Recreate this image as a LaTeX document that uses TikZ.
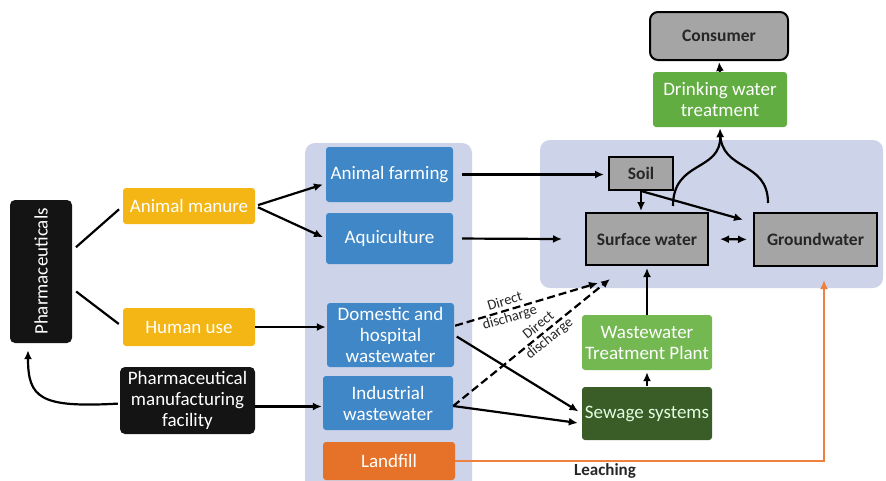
\documentclass[tikz,border=0pt]{standalone}
\usepackage{fontspec}
\setmainfont{Carlito}
\usepackage{graphicx}
\usetikzlibrary{arrows.meta}
\definecolor{PHyellow}{HTML}{F3B614}
\definecolor{PHblue}{HTML}{3F87C7}
\definecolor{PHpanel}{HTML}{CDD3E9}
\definecolor{PHgrey}{HTML}{A5A5A5}
\definecolor{PHgreen}{HTML}{62AD42}
\definecolor{PHlightgreen}{HTML}{74B852}
\definecolor{PHdarkgreen}{HTML}{3A5C26}
\definecolor{PHorange}{HTML}{E6722A}
\definecolor{PHline}{HTML}{EE8040}
\definecolor{PHblack}{HTML}{141414}

\begin{document}
\begin{tikzpicture}[x=1pt,y=-1pt,>={Latex[length=9pt,width=8pt]},
    box/.style={rounded corners=3pt,align=center,text=white,inner sep=1pt,
      font=\fontsize{19}{21}\selectfont},
    srcbox/.style={box,fill=PHyellow},
    pathbox/.style={box,fill=PHblue},
    darkbox/.style={box,fill=PHblack,rounded corners=5pt},
    sinkbox/.style={box,sharp corners,fill=PHgrey,draw=black,line width=2pt,
      text=black!85,font=\fontsize{17.5}{20}\selectfont\bfseries},
    flow/.style={->,line width=2.2pt},
    ddflow/.style={flow,dash pattern=on 8pt off 4pt},
    ddlabel/.style={sloped,align=center,inner sep=0pt,text=black!85,font=\fontsize{14.5}{17}\selectfont}]
    \useasboundingbox (0,0) rectangle (886,480);

    \fill[PHpanel,rounded corners=10pt] (305,143) rectangle (472,500);
    \fill[PHpanel,rounded corners=10pt] (540,140) rectangle (883,288);

    \node[darkbox,minimum width=62,minimum height=143] (pharma) at (41,271.5) {\rotatebox{90}{Pharmaceuticals}};
    \node[srcbox,minimum width=132,minimum height=36] (manure) at (189,206) {Animal manure};
    \node[srcbox,minimum width=132,minimum height=38] (human) at (189,327) {Human use};
    \node[darkbox,minimum width=135,minimum height=67] (manuf) at (187.5,400.5) {Pharmaceutical\\manufacturing\\facility};

    \node[pathbox,minimum width=127,minimum height=55] (farming) at (389.5,174.5) {Animal farming};
    \node[pathbox,minimum width=127,minimum height=51] (aqui) at (389.5,238.5) {Aquiculture};
    \node[pathbox,minimum width=127,minimum height=64] (domestic) at (390.5,335) {Domestic and\\hospital\\wastewater};
    \node[pathbox,minimum width=130,minimum height=54] (industrial) at (388,403) {Industrial\\wastewater};
    \node[box,fill=PHorange,minimum width=132,minimum height=38] (landfill) at (389,461) {Landfill};

    \node[sinkbox,rounded corners=8pt,minimum width=138,minimum height=48] (consumer) at (719,36) {Consumer};
    \node[box,fill=PHgreen,minimum width=134,minimum height=55] (drink) at (720,99.5) {Drinking water\\treatment};
    \node[sinkbox,minimum width=64,minimum height=33] (soil) at (641,173.5) {Soil};
    \node[sinkbox,minimum width=122,minimum height=52] (surface) at (647,239) {Surface water};
    \node[sinkbox,minimum width=123,minimum height=53] (ground) at (815.5,239.5) {Groundwater};
    \node[box,fill=PHlightgreen,minimum width=130,minimum height=55] (wwtp) at (647,342.5) {Wastewater\\Treatment Plant};
    \node[box,fill=PHdarkgreen,text=white!88!green,minimum width=130,minimum height=53] (sewage) at (647,413.5) {Sewage systems};
    \node[font=\fontsize{17}{18}\selectfont\bfseries,text=black!85] (leach) at (605,471) {Leaching};

    \coordinate (aquiend) at (562,239);
    \coordinate (ddend1) at (598,283);
    \coordinate (ddend2) at (610,279);

    \draw[line width=2.2pt,shorten <=5pt,shorten >=5pt] ([yshift=21pt]pharma.east) -- (manure.west);
    \draw[line width=2.2pt,shorten <=5pt,shorten >=5pt] ([yshift=-17pt]pharma.east) -- (human.west);
    \draw[flow,shorten <=3pt,shorten >=3pt] (manure.east) -- ([yshift=-9pt]farming.west);
    \draw[flow,shorten <=3pt,shorten >=3pt] (manure.east) -- (aqui.west);
    \draw[flow,shorten >=1pt] (human.east) -- (human.east -| domestic.west);
    \draw[flow,shorten >=1pt] ([yshift=-6pt]manuf.east) -- ([yshift=-6pt]manuf.east -| industrial.west);
    \draw[flow,shorten <=2pt] ([yshift=-3pt]manuf.west) .. controls (40,408) and (28,398) .. ([xshift=-13pt,yshift=-7pt]pharma.south);

    \draw[flow,shorten <=9pt,shorten >=4pt] (farming.east) -- (farming.east -| soil.west);
    \draw[flow,shorten <=9pt] (aqui.east) -- (aquiend);
    \draw[ddflow,shorten <=1pt] ([yshift=9pt]domestic.east) -- (ddend1) node[ddlabel,pos=0.37] (dd1) {Direct\\discharge};
    \draw[ddflow] ([yshift=-3pt]industrial.east) -- (ddend2) node[ddlabel,pos=0.58] (dd2) {Direct\\discharge};
    \draw[flow,shorten <=3pt,shorten >=4pt] (domestic.east) -- (sewage.west);
    \draw[flow,shorten >=4pt] ([yshift=-3pt]industrial.east) -- ([yshift=-10pt]sewage.west);

    \draw[flow,shorten <=1pt,shorten >=2pt] (sewage.north) -- (wwtp.south);
    \draw[flow,shorten >=2pt] (wwtp.north) -- (surface.south);
    \draw[flow,shorten >=1pt] (soil.south) -- (soil.south |- surface.north);
    \draw[flow,shorten >=1pt] (soil.south) -- ([xshift=-9pt,yshift=-8pt]ground.north west);
    \draw[<->,line width=2.2pt,shorten <=11pt,shorten >=6pt] (surface.east) -- (ground.west);
    \draw[flow,shorten >=1pt] ([xshift=26pt,yshift=6pt]surface.north) .. controls (673,160) and (721,172) .. (drink.south);
    \draw[line width=2.2pt,shorten >=6pt] ([xshift=-47.5pt,yshift=9pt]ground.north) .. controls (768,160) and (721,172) .. (drink.south);
    \draw[flow,shorten >=1pt] (drink.north) -- (consumer.south);
    \draw[->,PHline,line width=1.8pt] (landfill.east) -| ([xshift=8.5pt,yshift=-13pt]ground.south);
\end{tikzpicture}
\end{document}
